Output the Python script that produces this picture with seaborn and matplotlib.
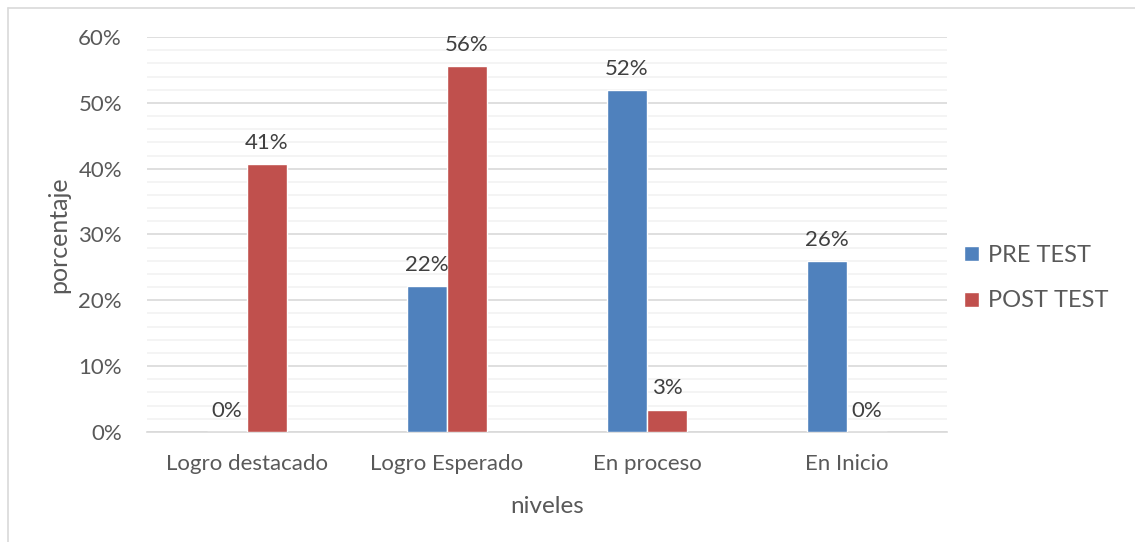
import numpy as np
import pandas as pd
import seaborn as sns
import matplotlib.pyplot as plt
from matplotlib.lines import Line2D
from matplotlib.ticker import MultipleLocator, PercentFormatter

niveles = ['Logro destacado', 'Logro Esperado', 'En proceso', 'En Inicio']
pre_test = [0.0, 22.2, 51.9, 25.9]
post_test = [40.7, 55.6, 3.4, 0.0]
series = ['PRE TEST', 'POST TEST']
colores = ['#4F81BD', '#C0504D']

df = pd.DataFrame({
    'nivel': niveles * 2,
    'valor': pre_test + post_test,
    'grupo': [series[0]] * 4 + [series[1]] * 4,
})

sns.set_style('white')
plt.rcParams['font.family'] = ['Lato', 'DejaVu Sans']
gris = '#595959'

fig = plt.figure(figsize=(11.35, 5.42), dpi=100)
ax = fig.add_axes([0.1295, 0.203, 0.705, 0.7287])

sns.barplot(data=df, x='nivel', y='valor', hue='grupo', palette=colores,
            width=0.4, saturation=1, ax=ax, legend=True, zorder=3)

ax.set_ylim(0, 60)
ax.set_xlim(-0.5, 3.5)
ax.yaxis.set_major_locator(MultipleLocator(10))
ax.yaxis.set_minor_locator(MultipleLocator(2))
ax.yaxis.set_major_formatter(PercentFormatter(decimals=0))
ax.grid(axis='y', which='major', color='#D9D9D9', lw=1.2, zorder=0)
ax.grid(axis='y', which='minor', color='#F2F2F2', lw=1.2, zorder=0)
ax.set_axisbelow(True)
for s in ['top', 'right', 'left']:
    ax.spines[s].set_visible(False)
ax.spines['bottom'].set_color('#D9D9D9')
ax.spines['bottom'].set_linewidth(1.2)
ax.tick_params(axis='both', which='both', length=0, labelsize=16, colors=gris)
ax.tick_params(axis='y', pad=18)
ax.tick_params(axis='x', pad=16)

ax.set_xlabel('niveles', fontsize=17.5, color=gris, labelpad=16)
ax.set_ylabel('porcentaje', fontsize=18, color=gris, labelpad=6)

for cont in ax.containers:
    ax.bar_label(cont, fmt=lambda v: f'{v:.0f}%', padding=8, fontsize=16, color='#404040')

ax.legend(loc='center left', bbox_to_anchor=(0.995, 0.39), frameon=False,
          fontsize=17, labelcolor=gris, handlelength=0.6, handleheight=0.6,
          handletextpad=0.4, labelspacing=1.05)

# chart frame (cut on right and bottom)
fig.add_artist(Line2D([8 / 1135, 1.0], [1 - 8 / 542] * 2, color='#D9D9D9', lw=1.2, transform=fig.transFigure))
fig.add_artist(Line2D([8 / 1135] * 2, [0, 1 - 8 / 542], color='#D9D9D9', lw=1.2, transform=fig.transFigure))

fig.savefig('out.png', dpi=100)
